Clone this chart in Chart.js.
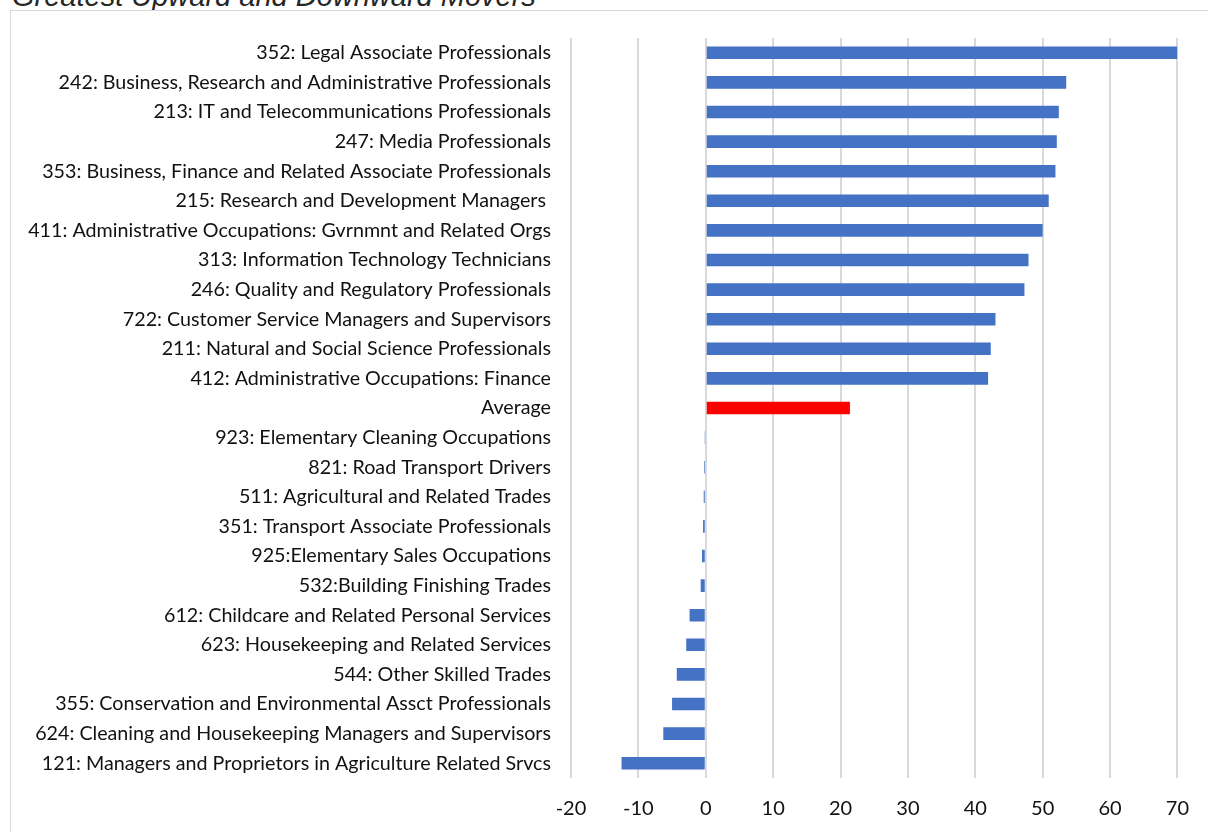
<!DOCTYPE html>
<html>
<head>
<meta charset="utf-8">
<script src="https://cdn.jsdelivr.net/npm/chart.js@4.4.0/dist/chart.umd.min.js"></script>
<style>
  html, body { margin: 0; padding: 0; background: #fff; overflow: hidden; }
  #wrap { position: relative; width: 1208px; height: 832px; overflow: hidden; }
  #title { position: absolute; left: 12px; top: -20px; line-height: 1; font: italic 29px "Liberation Sans", Arial, sans-serif; color: #262626; white-space: nowrap; }
  #frame { position: absolute; left: 10px; top: 10px; width: 1220px; height: 840px; border: 1px solid #d9d9d9; box-sizing: border-box; background: #fff; }
  #cv { position: absolute; left: 0; top: 0; }
</style>
</head>
<body>
<div id="wrap">
  <div id="title">Greatest Upward and Downward Movers</div>
  <div id="frame"></div>
  <canvas id="cv" width="1208" height="840"></canvas>
</div>
<script>
// occupations, top to bottom
var categories = [
  "352: Legal Associate Professionals",
  "242: Business, Research and Administrative Professionals",
  "213: IT and Telecommunications Professionals",
  "247: Media Professionals",
  "353: Business, Finance and Related Associate Professionals",
  "215: Research and Development Managers ",
  "411: Administrative Occupations: Gvrnmnt and Related Orgs",
  "313: Information Technology Technicians",
  "246: Quality and Regulatory Professionals",
  "722: Customer Service Managers and Supervisors",
  "211: Natural and Social Science Professionals",
  "412: Administrative Occupations: Finance",
  "Average",
  "923: Elementary Cleaning Occupations",
  "821: Road Transport Drivers",
  "511: Agricultural and Related Trades",
  "351: Transport Associate Professionals",
  "925:Elementary Sales Occupations",
  "532:Building Finishing Trades",
  "612: Childcare and Related Personal Services",
  "623: Housekeeping and Related Services",
  "544: Other Skilled Trades",
  "355: Conservation and Environmental Assct Professionals",
  "624: Cleaning and Housekeeping Managers and Supervisors",
  "121: Managers and Proprietors in Agriculture Related Srvcs"
];

var movement = [70, 53.5, 52.4, 52.1, 51.9, 50.9, 50.0, 47.9, 47.3, 43.0, 42.3, 41.9,
  21.4, -0.1, -0.25, -0.3, -0.4, -0.55, -0.75, -2.4, -2.9, -4.3, -5.0, -6.3, -12.5];

var xTicks = [-20, -10, 0, 10, 20, 30, 40, 50, 60, 70];

var barColors = categories.map(function (c) {
  return c === "Average" ? "#ff0000" : "#4472c4";
});

var ctx = document.getElementById("cv").getContext("2d");
new Chart(ctx, {
  type: "bar",
  data: {
    labels: categories,
    datasets: [{
      data: movement,
      backgroundColor: barColors,
      borderWidth: 0,
      barPercentage: 0.85,
      categoryPercentage: 0.5
    }]
  },
  options: {
    indexAxis: "y",
    responsive: false,
    animation: false,
    layout: { padding: { left: 0, right: 27, top: 38, bottom: 0 } },
    plugins: { legend: { display: false }, tooltip: { enabled: false } },
    scales: {
      x: {
        min: -20,
        max: 70,
        afterBuildTicks: function (scale) {
          scale.ticks = xTicks.map(function (v) { return { value: v }; });
        },
        grid: { color: "#d9d9d9", lineWidth: 2, drawTicks: false },
        border: { display: false },
        ticks: { color: "#111", padding: 19, font: { family: "Lato", size: 20 } }
      },
      y: {
        afterFit: function (scale) { scale.width = 571; },
        grid: { display: false, drawTicks: false },
        border: { display: false },
        ticks: { color: "#111", padding: 20, autoSkip: false, font: { family: "Lato", size: 19.7 } }
      }
    }
  }
});
</script>
</body>
</html>
